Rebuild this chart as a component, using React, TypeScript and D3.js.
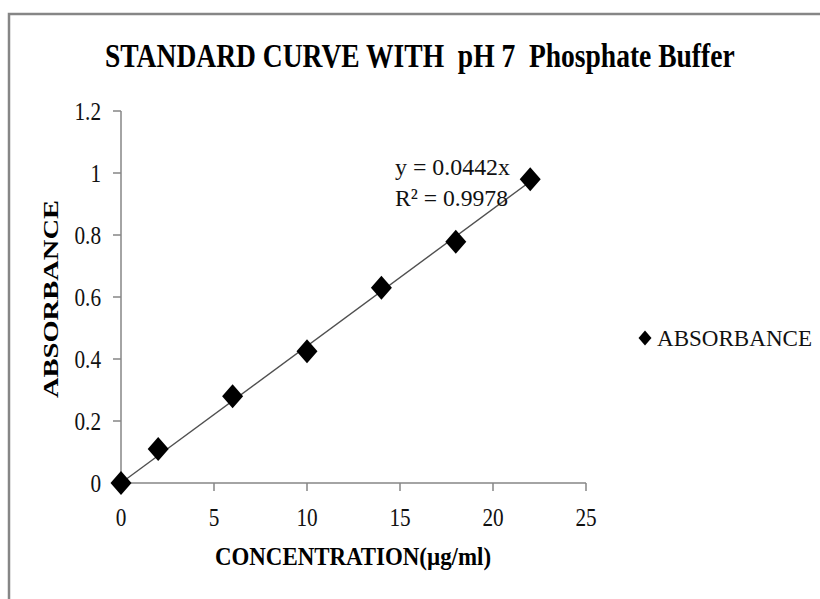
import React from "react";
import * as d3 from "d3";

// Standard curve data: concentration (µg/ml) vs absorbance
const concentrations = [0, 2, 6, 10, 14, 18, 22];
const absorbances = [0, 0.11, 0.28, 0.425, 0.63, 0.778, 0.98];
const xTicks = [0, 5, 10, 15, 20, 25];
const yTicks = [0, 0.2, 0.4, 0.6, 0.8, 1, 1.2];
const slope = 0.0442;
const rSquared = 0.9978;

const W = 820;
const H = 599;
const FONT = "'Liberation Serif', 'Times New Roman', serif";
const AXIS = "#868686";

const x = d3.scaleLinear().domain([0, 25]).range([121, 586]);
const y = d3.scaleLinear().domain([0, 1.2]).range([483, 111]);

const diamond = (hw: number, hh: number) =>
  `M0,${-hh}L${hw},0L0,${hh}L${-hw},0Z`;

const fmtY = (v: number) => (v === 0 || v === 1 ? String(v) : v.toFixed(1));

export default function App() {
  const xMax = concentrations[concentrations.length - 1];
  const trend = d3
    .line<number>()
    .x((c) => x(c))
    .y((c) => y(slope * c))([0, xMax]);

  return (
    <svg
      width={W}
      height={H}
      viewBox={`0 0 ${W} ${H}`}
      style={{ position: "absolute", left: 0, top: 0, background: "#fff" }}
      fontFamily={FONT}
    >
      {/* chart frame */}
      <rect x={9} y={14} width={W + 20} height={H + 20} fill="#fff" stroke={AXIS} strokeWidth={2.5} />

      {/* title */}
      <g transform="translate(105,67) scale(0.81,1)">
        <text x={0} y={0} fontSize={34} fontWeight="bold" style={{ whiteSpace: "pre" }}>
          {"STANDARD CURVE WITH  pH 7  Phosphate Buffer"}
        </text>
      </g>

      {/* axes */}
      <line x1={x(0)} x2={x(0)} y1={y(1.2)} y2={y(0)} stroke={AXIS} strokeWidth={1.5} />
      <line x1={x(0)} x2={x(25)} y1={y(0)} y2={y(0)} stroke={AXIS} strokeWidth={1.5} />
      {yTicks.map((t) => (
        <g key={`yt${t}`}>
          <line x1={x(0) - 8} x2={x(0)} y1={y(t)} y2={y(t)} stroke={AXIS} strokeWidth={1.5} />
          <g transform={`translate(101,${y(t) + 8.5}) scale(0.85,1)`}>
            <text x={0} y={0} fontSize={25} textAnchor="end" fill="#111">
              {fmtY(t)}
            </text>
          </g>
        </g>
      ))}
      {xTicks.map((t) => (
        <g key={`xt${t}`}>
          <line x1={x(t)} x2={x(t)} y1={y(0)} y2={y(0) + 8} stroke={AXIS} strokeWidth={1.5} />
          <g transform={`translate(${x(t)},526) scale(0.85,1)`}>
            <text x={0} y={0} fontSize={25} textAnchor="middle" fill="#111">
              {t}
            </text>
          </g>
        </g>
      ))}

      {/* axis titles */}
      <text
        x={215}
        y={565}
        fontSize={26}
        fontWeight="bold"
        textLength={276}
        lengthAdjust="spacingAndGlyphs"
      >
        CONCENTRATION(µg/ml)
      </text>
      <text
        transform="translate(58,299) rotate(-90)"
        x={0}
        y={0}
        fontSize={20}
        fontWeight="bold"
        textAnchor="middle"
        textLength={198}
        lengthAdjust="spacingAndGlyphs"
      >
        ABSORBANCE
      </text>

      {/* linear trendline through origin */}
      <path d={trend ?? ""} fill="none" stroke="#505050" strokeWidth={1.4} />

      {/* data points */}
      {concentrations.map((c, i) => (
        <path
          key={`p${i}`}
          d={diamond(10.5, 12)}
          transform={`translate(${x(c)},${y(absorbances[i])})`}
          fill="#000"
        />
      ))}

      {/* trendline equation */}
      <text x={395} y={175} fontSize={24} textLength={115} lengthAdjust="spacingAndGlyphs" fill="#111">
        {`y = ${slope}x`}
      </text>
      <text x={395} y={206} fontSize={24} textLength={113} lengthAdjust="spacingAndGlyphs" fill="#111">
        {`R² = ${rSquared}`}
      </text>

      {/* legend */}
      <path d={diamond(6.5, 7.5)} transform="translate(645,338)" fill="#000" />
      <text x={657} y={346} fontSize={24} textLength={155} lengthAdjust="spacingAndGlyphs" fill="#111">
        ABSORBANCE
      </text>
    </svg>
  );
}
